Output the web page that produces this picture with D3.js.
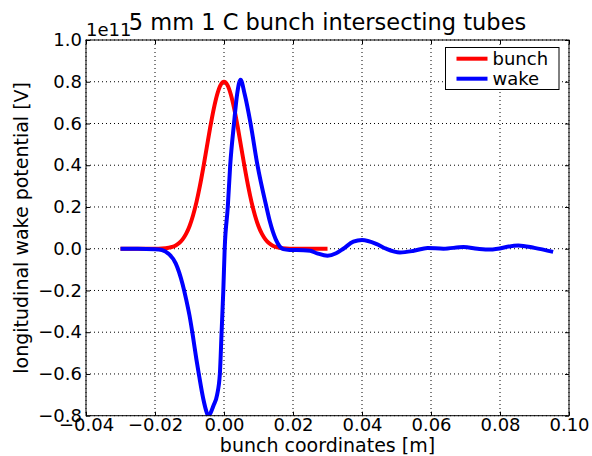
<!DOCTYPE html>
<html>
<head>
<meta charset="utf-8" />
<title>5 mm 1 C bunch intersecting tubes</title>
<script src="https://d3js.org/d3.v7.min.js"></script>
<style>
  body { margin: 0; background: #fff; }
  svg text { font-family: "DejaVu Sans", sans-serif; fill: #000; }
</style>
</head>
<body>
<svg class="chart"></svg>
<script type="application/javascript">
// values in metres (x) and 1e11 V (y)
const bunchX = [-0.030, -0.025, -0.020, -0.018, -0.016, -0.015, -0.014, -0.013, -0.012, -0.011, -0.010,
  -0.009, -0.008, -0.007, -0.006, -0.005, -0.004, -0.003, -0.002, -0.001, 0.000,
  0.001, 0.002, 0.003, 0.004, 0.005, 0.006, 0.007, 0.008, 0.009, 0.010,
  0.011, 0.012, 0.013, 0.014, 0.015, 0.016, 0.018, 0.020, 0.025, 0.030];
const bunchY = [0.000, 0.000, 0.000, 0.001, 0.005, 0.009, 0.016, 0.027, 0.045, 0.071, 0.108,
  0.158, 0.222, 0.300, 0.389, 0.485, 0.581, 0.668, 0.738, 0.784, 0.800,
  0.784, 0.738, 0.668, 0.581, 0.485, 0.389, 0.300, 0.222, 0.158, 0.108,
  0.071, 0.045, 0.027, 0.016, 0.009, 0.005, 0.001, 0.000, 0.000, 0.000];

const wakeX = [-0.030, -0.025, -0.020, -0.018, -0.016, -0.014, -0.012, -0.011, -0.010, -0.009,
  -0.008, -0.0072, -0.006, -0.005, -0.0046, -0.003, -0.002, -0.0012, -0.0007, -0.0002, 0.0002,
  0.0011, 0.0018, 0.0029, 0.0038, 0.0048, 0.006, 0.0077, 0.0097, 0.0123, 0.0133,
  0.015, 0.0172, 0.019, 0.023, 0.025, 0.027, 0.030, 0.0325, 0.0346, 0.0375, 0.040,
  0.0443, 0.047, 0.051, 0.055, 0.059, 0.0636, 0.0694, 0.0735, 0.0771, 0.0853,
  0.090, 0.0954];
const wakeY = [0.000, 0.000, -0.002, -0.006, -0.025, -0.07, -0.17, -0.24, -0.32, -0.42,
  -0.53, -0.61, -0.72, -0.785, -0.80, -0.75, -0.70, -0.60, -0.40, -0.20, 0.00,
  0.20, 0.40, 0.60, 0.74, 0.81, 0.74, 0.60, 0.40, 0.20, 0.13,
  0.045, -0.002, -0.006, -0.007, -0.010, -0.022, -0.034, -0.022, 0.000, 0.034, 0.042,
  0.022, 0.000, -0.018, -0.010, 0.004, 0.000, 0.008, 0.000, -0.004, 0.016,
  0.004, -0.015];

const xTicks = [-0.04, -0.02, 0.00, 0.02, 0.04, 0.06, 0.08, 0.10];
const yTicks = [-0.8, -0.6, -0.4, -0.2, 0.0, 0.2, 0.4, 0.6, 0.8, 1.0];
const seriesNames = ["bunch", "wake"];
const seriesColors = ["#ff0000", "#0000ff"];

const width = 592, height = 456;
const margin = {top: 40, right: 23, bottom: 40.3, left: 86};
const pw = width - margin.left - margin.right;
const ph = height - margin.top - margin.bottom;

const svg = d3.select("svg")
  .attr("width", width)
  .attr("height", height);

const x = d3.scaleLinear().domain([-0.04, 0.10]).range([0, pw]);
const y = d3.scaleLinear().domain([-0.8, 1.0]).range([ph, 0]);

const g = svg.append("g").attr("transform", `translate(${margin.left},${margin.top})`);

g.append("clipPath").attr("id", "clip")
  .append("rect").attr("width", pw).attr("height", ph);

// grid
const grid = g.append("g")
  .attr("stroke", "#000")
  .attr("stroke-width", 1)
  .attr("stroke-dasharray", "1,3");
grid.selectAll(".gx").data(xTicks).join("line")
  .attr("x1", d => x(d)).attr("x2", d => x(d))
  .attr("y1", 0).attr("y2", ph);
grid.selectAll(".gy").data(yTicks).join("line")
  .attr("class", "gy")
  .attr("x1", 0).attr("x2", pw)
  .attr("y1", d => y(d)).attr("y2", d => y(d));

// curves
const line = d3.line().curve(d3.curveMonotoneX);
const series = [
  d3.zip(bunchX, bunchY),
  d3.zip(wakeX, wakeY)
];
g.append("g").attr("clip-path", "url(#clip)")
  .selectAll("path").data(series).join("path")
  .attr("d", d => line(d.map(p => [x(p[0]), y(p[1])])))
  .attr("fill", "none")
  .attr("stroke", (d, i) => seriesColors[i])
  .attr("stroke-width", 4)
  .attr("stroke-linejoin", "round");

// axes, ticks pointing inwards
const fontSize = 18;
const axB = g.append("g").attr("transform", `translate(0,${ph})`)
  .call(d3.axisBottom(x).tickValues(xTicks).tickFormat(d3.format(".2f")).tickSize(-4).tickPadding(3));
const axL = g.append("g")
  .call(d3.axisLeft(y).tickValues(yTicks).tickFormat(d3.format(".1f")).tickSize(-4).tickPadding(4));
const axT = g.append("g")
  .call(d3.axisTop(x).tickValues(xTicks).tickFormat("").tickSize(-4));
const axR = g.append("g").attr("transform", `translate(${pw},0)`)
  .call(d3.axisRight(y).tickValues(yTicks).tickFormat("").tickSize(-4));
[axB, axL, axT, axR].forEach(a => {
  a.select(".domain").remove();
  a.selectAll("text").attr("font-size", fontSize).attr("font-family", "DejaVu Sans");
  a.selectAll("line").attr("stroke", "#000");
});

g.append("rect")
  .attr("width", pw).attr("height", ph)
  .attr("fill", "none").attr("stroke", "#000").attr("stroke-width", 1);

// offset text
g.append("text").attr("x", 0).attr("y", -4)
  .attr("font-size", fontSize).text("1e11");

// title and labels
svg.append("text")
  .attr("x", margin.left + pw / 2).attr("y", 30)
  .attr("text-anchor", "middle").attr("font-size", 22.5)
  .text("5 mm 1 C bunch intersecting tubes");
svg.append("text")
  .attr("x", margin.left + pw / 2).attr("y", 452)
  .attr("text-anchor", "middle").attr("font-size", 19)
  .text("bunch coordinates [m]");
svg.append("text")
  .attr("transform", `translate(27.5,${margin.top + ph / 2}) rotate(-90)`)
  .attr("text-anchor", "middle").attr("font-size", 19)
  .text("longitudinal wake potential [V]");

// legend
const lg = svg.append("g").attr("transform", "translate(445.5,47.5)");
lg.append("rect").attr("width", 113.5).attr("height", 42)
  .attr("fill", "#fff").attr("stroke", "#000").attr("stroke-width", 1);
const items = lg.selectAll(".item").data(seriesNames).join("g")
  .attr("class", "item")
  .attr("transform", (d, i) => `translate(0,${11.2 + i * 20})`);
items.append("line")
  .attr("x1", 11).attr("x2", 42)
  .attr("stroke", (d, i) => seriesColors[i]).attr("stroke-width", 4);
items.append("text")
  .attr("x", 47).attr("dy", "0.35em")
  .attr("font-size", fontSize).text(d => d);
</script>
</body>
</html>
